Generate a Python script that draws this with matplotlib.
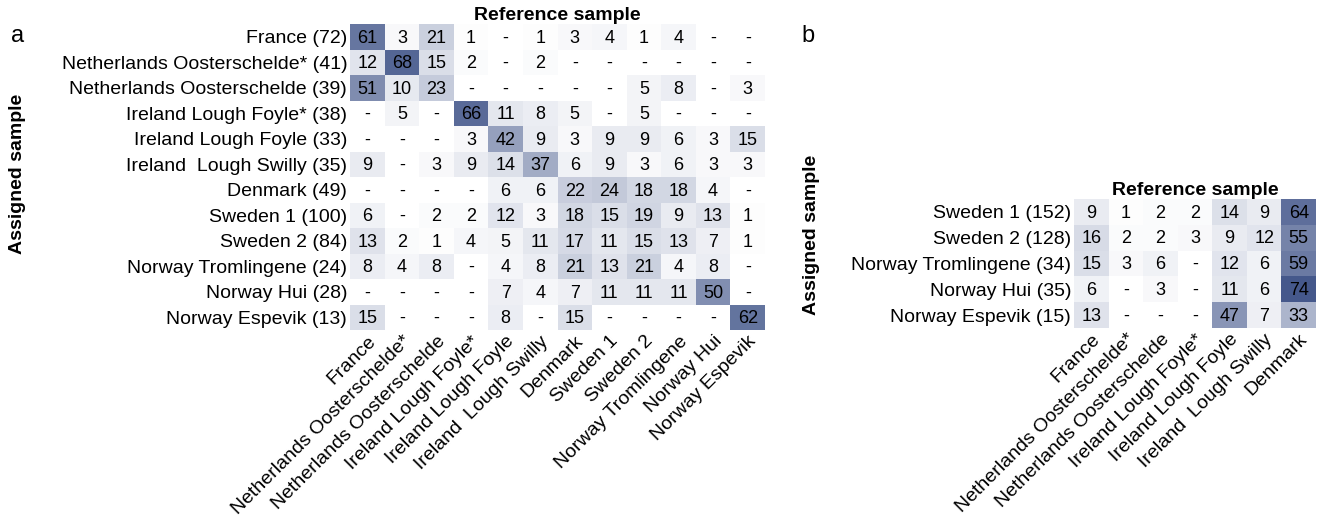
import matplotlib
matplotlib.use("Agg")
import matplotlib.pyplot as plt
from matplotlib.colors import LinearSegmentedColormap
import numpy as np

plt.rcParams['font.family'] = ['Liberation Sans', 'DejaVu Sans']

# Dados do painel a
linhas_a = ["France (72)", "Netherlands Oosterschelde* (41)", "Netherlands Oosterschelde (39)",
            "Ireland Lough Foyle* (38)", "Ireland Lough Foyle (33)", "Ireland  Lough Swilly (35)",
            "Denmark (49)", "Sweden 1 (100)", "Sweden 2 (84)", "Norway Tromlingene (24)",
            "Norway Hui (28)", "Norway Espevik (13)"]
colunas_a = ["France", "Netherlands Oosterschelde*", "Netherlands Oosterschelde",
             "Ireland Lough Foyle*", "Ireland Lough Foyle", "Ireland  Lough Swilly",
             "Denmark", "Sweden 1", "Sweden 2", "Norway Tromlingene", "Norway Hui", "Norway Espevik"]
valores_a = [
    [61, 3, 21, 1, 0, 1, 3, 4, 1, 4, 0, 0],
    [12, 68, 15, 2, 0, 2, 0, 0, 0, 0, 0, 0],
    [51, 10, 23, 0, 0, 0, 0, 0, 5, 8, 0, 3],
    [0, 5, 0, 66, 11, 8, 5, 0, 5, 0, 0, 0],
    [0, 0, 0, 3, 42, 9, 3, 9, 9, 6, 3, 15],
    [9, 0, 3, 9, 14, 37, 6, 9, 3, 6, 3, 3],
    [0, 0, 0, 0, 6, 6, 22, 24, 18, 18, 4, 0],
    [6, 0, 2, 2, 12, 3, 18, 15, 19, 9, 13, 1],
    [13, 2, 1, 4, 5, 11, 17, 11, 15, 13, 7, 1],
    [8, 4, 8, 0, 4, 8, 21, 13, 21, 4, 8, 0],
    [0, 0, 0, 0, 7, 4, 7, 11, 11, 11, 50, 0],
    [15, 0, 0, 0, 8, 0, 15, 0, 0, 0, 0, 62],
]

# Dados do painel b
linhas_b = ["Sweden 1 (152)", "Sweden 2 (128)", "Norway Tromlingene (34)",
            "Norway Hui (35)", "Norway Espevik (15)"]
colunas_b = ["France", "Netherlands Oosterschelde*", "Netherlands Oosterschelde",
             "Ireland Lough Foyle*", "Ireland Lough Foyle", "Ireland  Lough Swilly", "Denmark"]
valores_b = [
    [9, 1, 2, 2, 14, 9, 64],
    [16, 2, 2, 3, 9, 12, 55],
    [15, 3, 6, 0, 12, 6, 59],
    [6, 0, 3, 0, 11, 6, 74],
    [13, 0, 0, 0, 47, 7, 33],
]

W, H = 1322, 524
cmap = LinearSegmentedColormap.from_list("azul", ["#ffffff", "#2c427c"])


def desenhar_heatmap(ax, valores, linhas, colunas):
    dados = np.array(valores, dtype=float)
    ax.pcolormesh(dados, cmap=cmap, vmin=0, vmax=84, edgecolors='face', linewidth=0)
    ax.set_xlim(0, dados.shape[1])
    ax.set_ylim(dados.shape[0], 0)
    for i in range(dados.shape[0]):
        for j in range(dados.shape[1]):
            v = valores[i][j]
            txt = '-' if v == 0 else str(v)
            ax.text(j + 0.5, i + 0.55, txt, ha='center', va='center', fontsize=13, color='black')
    ax.set_yticks(np.arange(len(linhas)) + 0.5)
    ax.set_yticklabels(linhas, fontsize=14)
    ax.set_xticks(np.arange(len(colunas)) + 0.5)
    ax.set_xticklabels(colunas, fontsize=14, rotation=45, ha='right', rotation_mode='anchor')
    ax.tick_params(length=0, pad=2)
    for s in ax.spines.values():
        s.set_visible(False)
    ax.set_title('Reference sample', fontsize=14, fontweight='bold', pad=0)


fig = plt.figure(figsize=(W / 100, H / 100), dpi=100)

ax_a = fig.add_axes([350 / W, 1 - 330 / H, 415 / W, 306 / H])
desenhar_heatmap(ax_a, valores_a, linhas_a, colunas_a)

ax_b = fig.add_axes([1074 / W, 1 - 328 / H, 242 / W, 129 / H])
desenhar_heatmap(ax_b, valores_b, linhas_b, colunas_b)

fig.text(18 / W, 1 - 174 / H, 'Assigned sample', rotation=90, fontsize=14, fontweight='bold',
         ha='center', va='center')
fig.text(812 / W, 1 - 235 / H, 'Assigned sample', rotation=90, fontsize=14, fontweight='bold',
         ha='center', va='center')
fig.text(18 / W, 1 - 36 / H, 'a', fontsize=17, ha='center', va='center')
fig.text(808 / W, 1 - 36 / H, 'b', fontsize=17, ha='center', va='center')

fig.savefig('out.png', dpi=100)
